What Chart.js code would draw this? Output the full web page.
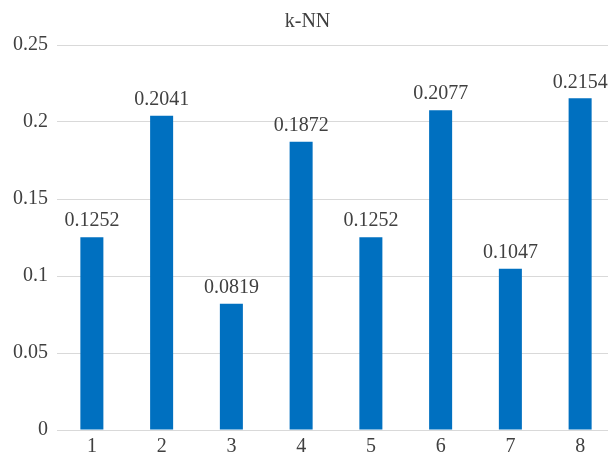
<!DOCTYPE html>
<html>
<head>
<meta charset="utf-8">
<script src="https://cdn.jsdelivr.net/npm/chart.js@4/dist/chart.umd.min.js"></script>
<style>
  html, body { margin: 0; padding: 0; overflow: hidden; background: #fff; }
  #wrap { position: absolute; left: 0; top: 0; width: 620px; height: 456px; }
  #pre { position: absolute; left: -1000px; top: 0; font-family: "Liberation Serif"; font-size: 20px; }
</style>
</head>
<body>
<span id="pre">0.2041 k-NN</span>
<div id="wrap"><canvas id="c" width="620" height="456"></canvas></div>
<script>
const categories = ["1", "2", "3", "4", "5", "6", "7", "8"];
const values = [0.1252, 0.2041, 0.0819, 0.1872, 0.1252, 0.2077, 0.1047, 0.2154];
const valueLabels = ["0.1252", "0.2041", "0.0819", "0.1872", "0.1252", "0.2077", "0.1047", "0.2154"];
const chartTitle = "k-NN";

const FONT = '"Liberation Serif", serif';
const TEXT = "#404040";

const labelPlugin = {
  id: "valueLabels",
  afterDatasetsDraw(chart) {
    const ctx = chart.ctx;
    const meta = chart.getDatasetMeta(0);
    ctx.save();
    ctx.font = "20px " + FONT;
    ctx.fillStyle = TEXT;
    ctx.textAlign = "center";
    ctx.textBaseline = "bottom";
    meta.data.forEach((bar, i) => {
      ctx.fillText(valueLabels[i], bar.x, bar.y - 6);
    });
    ctx.restore();
  }
};

function draw() {
  new Chart(document.getElementById("c"), {
    type: "bar",
    data: {
      labels: categories,
      datasets: [{
        data: values,
        backgroundColor: "#0070C0",
        borderWidth: 0,
        barPercentage: 0.33,
        categoryPercentage: 1.0
      }]
    },
    options: {
      responsive: false,
      animation: false,
      devicePixelRatio: 1,
      layout: { padding: { left: 0, right: 5, top: 0, bottom: 0 } },
      plugins: {
        legend: { display: false },
        tooltip: { enabled: false },
        title: {
          display: true,
          text: chartTitle,
          color: TEXT,
          font: { family: FONT, size: 20, weight: "normal" },
          padding: { top: 10, bottom: 11 }
        }
      },
      scales: {
        x: {
          grid: { display: false, drawTicks: false },
          border: { display: true, color: "#d9d9d9", width: 1 },
          ticks: {
            color: TEXT,
            font: { family: FONT, size: 20 },
            padding: 5,
            maxRotation: 0
          },
          afterFit(scale) { scale.height = 26; }
        },
        y: {
          min: 0,
          max: 0.25,
          grid: { color: "#d9d9d9", drawTicks: false, lineWidth: 1 },
          border: { display: false },
          ticks: {
            stepSize: 0.05,
            color: TEXT,
            font: { family: FONT, size: 20 },
            padding: 9,
            callback: (v) => String(Number(v.toFixed(2)))
          },
          afterFit(scale) { scale.width = 57; }
        }
      }
    },
    plugins: [labelPlugin]
  });
}

if (document.fonts && document.fonts.load) {
  document.fonts.load('20px "Liberation Serif"').then(draw, draw);
} else {
  draw();
}
</script>
</body>
</html>
